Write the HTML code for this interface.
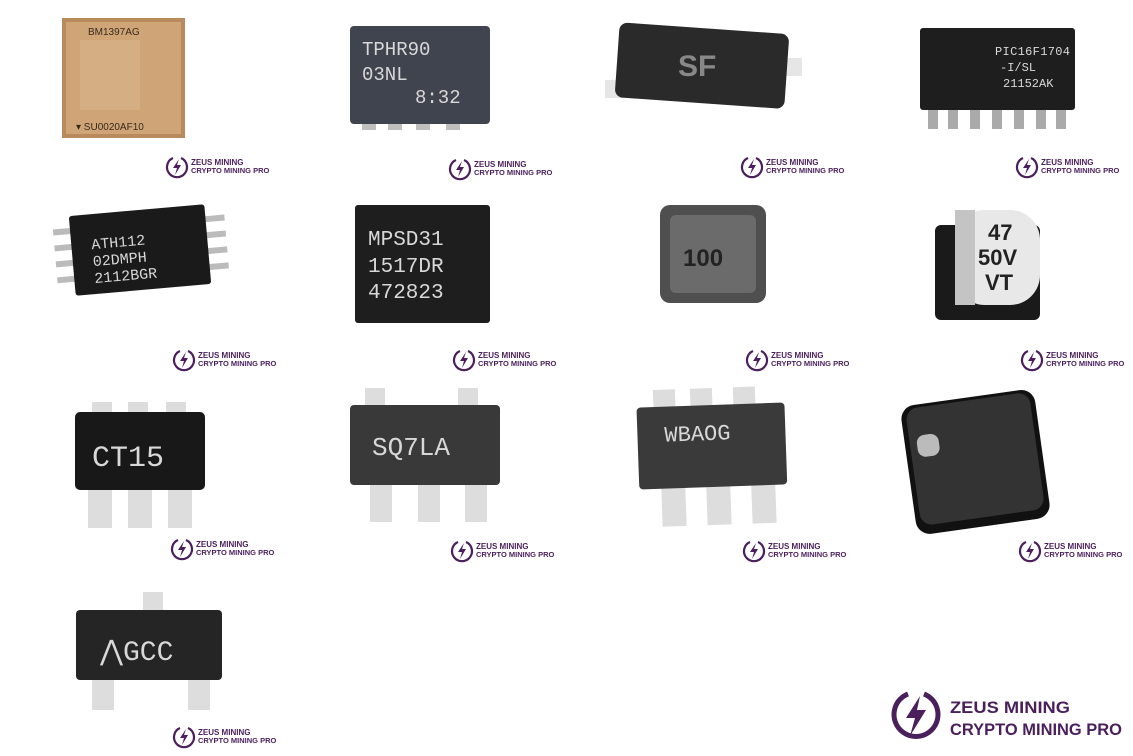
<!DOCTYPE html>
<html><head><meta charset="utf-8"><style>
html,body{margin:0;padding:0;background:#fff}
svg{display:block}
text{font-family:"Liberation Sans",sans-serif}
.lg{fill:#4a1f5c;font-weight:bold}
.mk{font-family:"Liberation Mono",monospace;fill:#d8d8d8}
</style></head><body>
<svg width="1133" height="756" viewBox="0 0 1133 756" xmlns="http://www.w3.org/2000/svg">
<defs>
<g id="logo">
<path d="M8,-7 A10,10 0 1 0 16,-7" fill="none" stroke="#4a1f5c" stroke-width="2.2"/>
<path d="M14,-6 L8,3 L12,3 L10,10 L16,0 L12,0 Z" fill="#4a1f5c"/>
<text x="26" y="0" class="lg" font-size="8">ZEUS MINING</text>
<text x="26" y="8" class="lg" font-size="7.5">CRYPTO MINING PRO</text>
</g>
</defs>
<rect width="1133" height="756" fill="#fff"/>

<rect x="62" y="18" width="123" height="120" fill="#b88a5c"/>
<rect x="66" y="22" width="115" height="112" fill="#cfa578"/>
<rect x="80" y="40" width="60" height="70" fill="#d9b58a" opacity=".6"/>
<text x="88" y="35" font-size="10" fill="#3a2a1a" font-family="Liberation Mono,monospace">BM1397AG</text>
<text x="76" y="130" font-size="10" fill="#3a2a1a" font-family="Liberation Mono,monospace">▾ SU0020AF10</text>

<g fill="#bfbfbf"><rect x="362" y="118" width="14" height="12"/><rect x="388" y="118" width="14" height="12"/><rect x="416" y="118" width="14" height="12"/><rect x="446" y="118" width="14" height="12"/></g>
<rect x="350" y="26" width="140" height="98" rx="4" fill="#40444e"/>
<text x="362" y="55" class="mk" font-size="19">TPHR90</text>
<text x="362" y="80" class="mk" font-size="19">03NL</text>
<text x="415" y="103" class="mk" font-size="19">8:32</text>

<rect x="605" y="80" width="25" height="18" fill="#e6e6e6"/><rect x="780" y="58" width="22" height="18" fill="#e6e6e6"/>
<rect x="617" y="28" width="170" height="75" rx="8" fill="#2a2a2a" transform="rotate(4 700 65)"/>
<text x="678" y="76" font-size="30" fill="#888" font-weight="bold">SF</text>

<g fill="#aaa"><rect x="928" y="105" width="10" height="24"/><rect x="948" y="105" width="10" height="24"/><rect x="970" y="105" width="10" height="24"/><rect x="992" y="105" width="10" height="24"/><rect x="1014" y="105" width="10" height="24"/><rect x="1036" y="105" width="10" height="24"/><rect x="1056" y="105" width="10" height="24"/></g>
<rect x="920" y="28" width="155" height="82" rx="3" fill="#1e1e1e"/>
<text x="995" y="55" class="mk" font-size="12" fill="#999" textLength="75">PIC16F1704</text>
<text x="1000" y="71" class="mk" font-size="12" fill="#999">-I/SL</text>
<text x="1003" y="87" class="mk" font-size="12" fill="#999">21152AK</text>

<use href="#logo" x="165" y="165"/><use href="#logo" x="448" y="167"/><use href="#logo" x="740" y="165"/><use href="#logo" x="1015" y="165"/>

<g transform="rotate(-5 140 250)">
<g fill="#bbb"><rect x="55" y="222" width="22" height="6"/><rect x="55" y="238" width="22" height="6"/><rect x="55" y="254" width="22" height="6"/><rect x="55" y="270" width="22" height="6"/><rect x="205" y="222" width="22" height="6"/><rect x="205" y="238" width="22" height="6"/><rect x="205" y="254" width="22" height="6"/><rect x="205" y="270" width="22" height="6"/></g>
<rect x="72" y="210" width="136" height="80" rx="3" fill="#1a1a1a"/>
<text x="92" y="245" class="mk" font-size="15" fill="#bbb">ATH112</text>
<text x="92" y="262" class="mk" font-size="15" fill="#bbb">02DMPH</text>
<text x="92" y="279" class="mk" font-size="15" fill="#bbb">2112BGR</text>
</g>

<rect x="355" y="205" width="135" height="118" rx="3" fill="#1e1e1e"/>
<text x="368" y="245" class="mk" font-size="21" fill="#ccc">MPSD31</text>
<text x="368" y="272" class="mk" font-size="21" fill="#ccc">1517DR</text>
<text x="368" y="298" class="mk" font-size="21" fill="#ccc">472823</text>

<rect x="660" y="205" width="106" height="98" rx="10" fill="#4f4f4f"/>
<rect x="670" y="215" width="86" height="78" rx="6" fill="#6b6b6b"/>
<text x="683" y="266" font-size="24" font-weight="bold" fill="#222" font-family="Liberation Mono,monospace">100</text>

<rect x="935" y="225" width="105" height="95" rx="6" fill="#1a1a1a"/>
<rect x="955" y="210" width="85" height="95" rx="30" fill="#e8e8e8"/>
<rect x="955" y="210" width="20" height="95" fill="#c4c4c4"/>
<text x="988" y="240" font-size="22" font-weight="bold" fill="#222">47</text>
<text x="978" y="265" font-size="22" font-weight="bold" fill="#222">50V</text>
<text x="985" y="290" font-size="22" font-weight="bold" fill="#222">VT</text>

<use href="#logo" x="172" y="358"/><use href="#logo" x="452" y="358"/><use href="#logo" x="745" y="358"/><use href="#logo" x="1020" y="358"/>

<g fill="#ddd"><rect x="92" y="402" width="20" height="15"/><rect x="128" y="402" width="20" height="15"/><rect x="166" y="402" width="20" height="15"/><rect x="88" y="485" width="24" height="43"/><rect x="128" y="485" width="24" height="43"/><rect x="168" y="485" width="24" height="43"/></g>
<rect x="75" y="412" width="130" height="78" rx="5" fill="#181818"/>
<text x="92" y="466" class="mk" font-size="30" fill="#bbb">CT15</text>

<g fill="#ddd"><rect x="365" y="388" width="20" height="20"/><rect x="458" y="388" width="20" height="20"/><rect x="370" y="482" width="22" height="40"/><rect x="418" y="482" width="22" height="40"/><rect x="465" y="482" width="22" height="40"/></g>
<rect x="350" y="405" width="150" height="80" rx="4" fill="#393939"/>
<text x="372" y="455" class="mk" font-size="26" fill="#aaa">SQ7LA</text>

<g transform="rotate(-2 712 450)">
<g fill="#ddd"><rect x="655" y="388" width="22" height="20"/><rect x="692" y="388" width="22" height="20"/><rect x="735" y="388" width="22" height="20"/><rect x="660" y="485" width="24" height="40"/><rect x="705" y="485" width="24" height="40"/><rect x="750" y="485" width="24" height="40"/></g>
<rect x="638" y="405" width="148" height="82" rx="4" fill="#3a3a3a"/>
<text x="665" y="440" class="mk" font-size="22" fill="#ccc">WBAOG</text>
</g>

<g transform="rotate(-8 975 462)">
<rect x="908" y="397" width="135" height="130" rx="14" fill="#111"/>
<rect x="913" y="400" width="125" height="118" rx="12" fill="#333"/>
<rect x="920" y="428" width="22" height="22" rx="8" fill="#bbb"/>
</g>

<use href="#logo" x="170" y="547"/><use href="#logo" x="450" y="549"/><use href="#logo" x="742" y="549"/><use href="#logo" x="1018" y="549"/>

<g fill="#ddd"><rect x="143" y="592" width="20" height="20"/><rect x="92" y="675" width="22" height="35"/><rect x="188" y="675" width="22" height="35"/></g>
<rect x="76" y="610" width="146" height="70" rx="4" fill="#252525"/>
<text x="100" y="660" class="mk" font-size="28" fill="#999">⋀GCC</text>

<use href="#logo" x="172" y="735"/>

<g transform="translate(890,690)">
<path d="M18,4 A22,22 0 1 0 34,4" fill="none" stroke="#4a1f5c" stroke-width="5"/>
<path d="M30,6 L16,28 L25,28 L20,46 L36,20 L27,20 Z" fill="#4a1f5c"/>
<text x="60" y="23" class="lg" font-size="17" textLength="120" lengthAdjust="spacingAndGlyphs">ZEUS MINING</text>
<text x="60" y="45" class="lg" font-size="17" textLength="172" lengthAdjust="spacingAndGlyphs">CRYPTO MINING PRO</text>
</g>
</svg>
</body></html>
